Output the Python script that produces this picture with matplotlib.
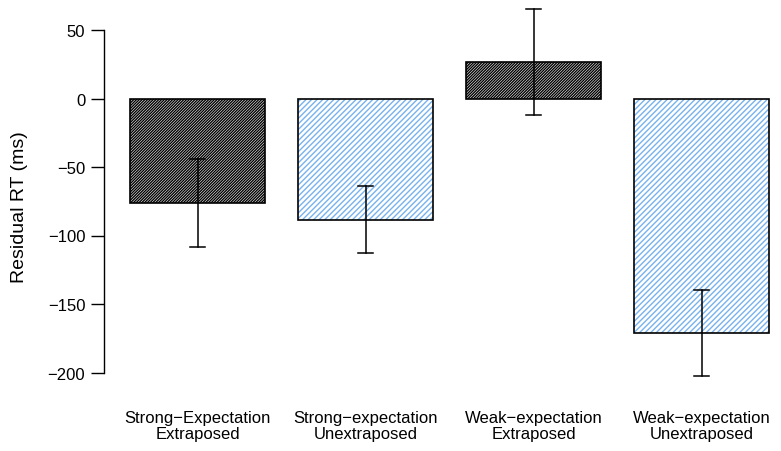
import matplotlib
matplotlib.use("Agg")
import matplotlib.pyplot as plt
import numpy as np

categories = ["Strong\u2212Expectation\nExtraposed", "Strong\u2212expectation\nUnextraposed",
              "Weak\u2212expectation\nExtraposed", "Weak\u2212expectation\nUnextraposed"]
means = [-76, -88.5, 27, -171]
err_low = [-108.5, -112.5, -12, -202.5]
err_high = [-44.5, -64, 65, -140]
yticks = [-200, -150, -100, -50, 0, 50]

plt.rcParams['font.family'] = ['Liberation Sans', 'DejaVu Sans']
plt.rcParams['hatch.linewidth'] = 1.0

W, H = 781, 452
ymin, ymax = -215, 65
pxu = 1.37
y0 = 99.5
top_px = y0 - ymax * pxu
bot_px = y0 - ymin * pxu
fig = plt.figure(figsize=(W/100, H/100), dpi=100)
ax = fig.add_axes([104/W, 1-bot_px/H, (776-104)/W, (bot_px-top_px)/H])

x = np.arange(len(categories))
hatch_colors = ["black", "#78b2ee", "black", "#78b2ee"]
hatches = ["////////////", "//////", "////////////", "//////"]
for xi, m, hc, h in zip(x, means, hatch_colors, hatches):
    ax.bar(xi, m, width=0.8, color="white", edgecolor=hc, hatch=h, linewidth=0)
    ax.bar(xi, m, width=0.8, fill=False, edgecolor="black", linewidth=1.2)

cw = 0.042
for xi, lo, hi in zip(x, err_low, err_high):
    ax.plot([xi, xi], [lo, hi], color="black", lw=1.1, clip_on=False)
    ax.plot([xi-cw, xi+cw], [lo, lo], color="black", lw=1.1, clip_on=False)
    ax.plot([xi-cw, xi+cw], [hi, hi], color="black", lw=1.1, clip_on=False)

ax.set_xlim((104-197.5)/168, (776-197.5)/168)
ax.set_ylim(ymin, ymax)
ax.set_yticks(yticks)
ax.set_yticklabels([str(t).replace('-', '\u2212') for t in yticks], fontsize=12)
ax.spines['left'].set_bounds(-200, 50)
ax.spines['left'].set_linewidth(1.0)
for s in ['top', 'right', 'bottom']:
    ax.spines[s].set_visible(False)
ax.tick_params(axis='y', length=9.5, width=1, pad=4)
ax.tick_params(axis='x', length=0, pad=12)
ax.set_xticks(x)
ax.set_xticklabels(categories, fontsize=12, linespacing=1.1)
fig.text(20/W, 1-207/H, "Residual RT (ms)", rotation=90, ha='center', va='center', fontsize=14)

fig.savefig("out.png", dpi=100)
